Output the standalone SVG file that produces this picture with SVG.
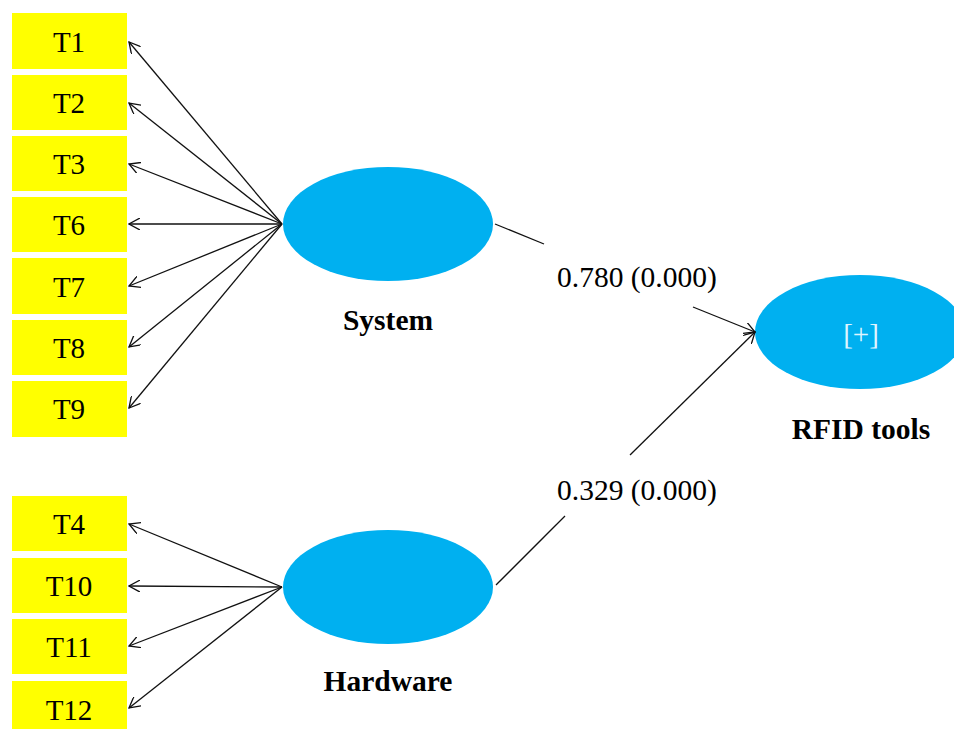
<svg xmlns="http://www.w3.org/2000/svg" width="954" height="729" viewBox="0 0 954 729">
  <defs>
    <marker id="open" viewBox="0 0 12 12" refX="11" refY="6" markerWidth="12" markerHeight="12" markerUnits="userSpaceOnUse" orient="auto">
      <path d="M0,0 L11,6 L0,12" fill="none" stroke="#111" stroke-width="1.3"/>
    </marker>
    <style>
      .ind rect { fill: #ffff00; }
      .ind text { font-family: "Liberation Serif", serif; font-size: 29px; fill: #000; text-anchor: middle; }
      .lv ellipse { fill: #00b0f0; }
      .name { font-family: "Liberation Serif", serif; font-size: 29.5px; font-weight: bold; fill: #000; text-anchor: middle; }
      .coef { font-family: "Liberation Serif", serif; font-size: 29.5px; fill: #000; }
      .edge line { stroke: #111; stroke-width: 1.3; fill: none; }
      .edge .arr { marker-end: url(#open); }
    </style>
  </defs>
  <rect width="954" height="729" fill="#ffffff"/>

  <!-- indicator boxes -->
  <g id="T1" class="ind"><rect x="12" y="13" width="115" height="56"/><text x="69" y="52">T1</text></g>
  <g id="T2" class="ind"><rect x="12" y="75" width="115" height="55"/><text x="69" y="113">T2</text></g>
  <g id="T3" class="ind"><rect x="12" y="136" width="115" height="55"/><text x="69" y="174">T3</text></g>
  <g id="T6" class="ind"><rect x="12" y="197" width="115" height="55"/><text x="69" y="235">T6</text></g>
  <g id="T7" class="ind"><rect x="12" y="258" width="115" height="56"/><text x="69" y="297">T7</text></g>
  <g id="T8" class="ind"><rect x="12" y="320" width="115" height="55"/><text x="69" y="358">T8</text></g>
  <g id="T9" class="ind"><rect x="12" y="381" width="115" height="56"/><text x="69" y="419">T9</text></g>
  <g id="T4" class="ind"><rect x="12" y="496" width="115" height="55"/><text x="69" y="534">T4</text></g>
  <g id="T10" class="ind"><rect x="12" y="558" width="115" height="55"/><text x="69" y="596">T10</text></g>
  <g id="T11" class="ind"><rect x="12" y="619" width="115" height="55"/><text x="69" y="657">T11</text></g>
  <g id="T12" class="ind"><rect x="12" y="681" width="115" height="48"/><text x="69" y="720">T12</text></g>

  <!-- latent variables -->
  <g id="System" class="lv">
    <ellipse cx="388" cy="224" rx="105" ry="57"/>
    <text class="name" x="388" y="330">System</text>
  </g>
  <g id="Hardware" class="lv">
    <ellipse cx="388" cy="587" rx="105" ry="57"/>
    <text class="name" x="388" y="691">Hardware</text>
  </g>
  <g id="RFID_tools" class="lv">
    <ellipse cx="860" cy="332" rx="105" ry="57"/>
    <text x="861" y="344" font-family="Liberation Serif, serif" font-size="29" fill="#dff4ff" text-anchor="middle">[+]</text>
    <text class="name" x="861" y="439">RFID tools</text>
  </g>

  <!-- connectors -->
  <g id="connectors" class="edge">
    <line class="arr" x1="282" y1="224" x2="129" y2="42"/>
    <line class="arr" x1="282" y1="224" x2="129" y2="103"/>
    <line class="arr" x1="282" y1="224" x2="129" y2="164"/>
    <line class="arr" x1="282" y1="224" x2="129" y2="224"/>
    <line class="arr" x1="282" y1="224" x2="129" y2="286"/>
    <line class="arr" x1="282" y1="224" x2="129" y2="347"/>
    <line class="arr" x1="282" y1="224" x2="129" y2="408"/>
    <line class="arr" x1="282" y1="587" x2="129" y2="524"/>
    <line class="arr" x1="282" y1="587" x2="129" y2="586"/>
    <line class="arr" x1="282" y1="587" x2="129" y2="646"/>
    <line class="arr" x1="282" y1="587" x2="129" y2="708"/>
    <line x1="495" y1="224" x2="544" y2="244"/>
    <line class="arr" x1="693" y1="307" x2="755" y2="332"/>
    <line x1="496" y1="585" x2="565" y2="516"/>
    <line class="arr" x1="630" y1="455" x2="755" y2="332"/>
  </g>

  <!-- path coefficients -->
  <text class="coef" x="557" y="287">0.780 (0.000)</text>
  <text class="coef" x="557" y="500">0.329 (0.000)</text>
</svg>
